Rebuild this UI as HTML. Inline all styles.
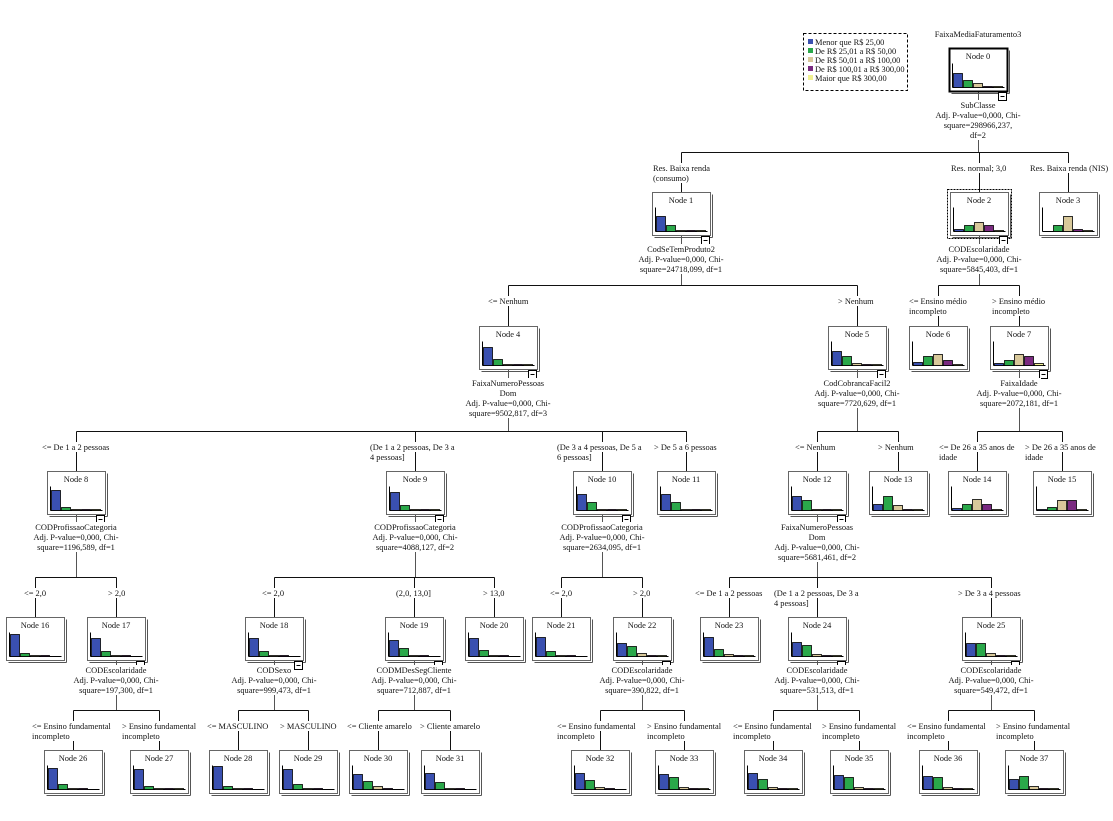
<!DOCTYPE html>
<html><head><meta charset="utf-8"><style>
html,body{margin:0;padding:0;background:#fff;width:1113px;height:821px;overflow:hidden}
svg text{font-family:"Liberation Serif",serif;font-size:8.4px;fill:#111}
</style></head><body>
<svg id="s" width="1113" height="821" viewBox="0 0 1113 821" xmlns="http://www.w3.org/2000/svg">
<text x="978" y="37" text-anchor="middle">FaixaMediaFaturamento3</text>
<rect x="803.5" y="33.5" width="104" height="57" fill="none" stroke="#000" stroke-dasharray="3,2"/>
<rect x="808" y="39" width="5" height="5" fill="#3a50b0"/><text x="815" y="45">Menor que R$ 25,00</text>
<rect x="808" y="48" width="5" height="5" fill="#2aa84a"/><text x="815" y="54">De R$ 25,01 a R$ 50,00</text>
<rect x="808" y="57" width="5" height="5" fill="#d8c89a"/><text x="815" y="63">De R$ 50,01 a R$ 100,00</text>
<rect x="808" y="66" width="5" height="5" fill="#7a2a80"/><text x="815" y="72">De R$ 100,01 a R$ 300,00</text>
<rect x="808" y="75" width="5" height="5" fill="#f0f090"/><text x="815" y="81">Maior que R$ 300,00</text>
<g id="g"></g>
</svg>
<script>
var g=document.getElementById('g');
var C=['#3a50b0','#2aa84a','#d8c89a','#7a2a80','#f0f090'];
var N=[[0,978,48,[14,7,4,1,1],1],[1,681,192,[15,6,1,1,1],1],[2,979,192,[2,6,9,6,1],1],[3,1068,192,[0,6,15,2,1],0],
[4,508,326,[18,6,1,1,1],1],[5,857,326,[14,9,2,1,1],1],[6,938,326,[3,9,11,5,1],0],[7,1019,326,[2,5,11,9,2],1],
[8,76,471,[20,3,1,1,1],1],[9,415,471,[18,5,1,1,1],1],[10,602,471,[16,8,1,1,1],1],[11,686,471,[16,8,1,1,1],0],
[12,817,471,[14,10,1,1,1],1],[13,898,471,[6,14,5,1,1],0],[14,977,471,[2,6,11,6,1],0],[15,1062,471,[1,3,10,10,1],0],
[16,35,617,[22,3,1,1,0],0],[17,116,617,[18,5,1,1,0],1],[18,274,617,[18,5,1,1,0],1],[19,414,617,[16,8,1,1,0],1],[20,494,617,[18,6,1,1,0],0],
[21,561,617,[19,5,1,1,0],0],[22,642,617,[13,10,3,1,1],1],[23,729,617,[19,7,2,1,1],0],[24,817,617,[14,11,2,1,1],1],[25,991,617,[13,13,3,1,1],1],
[26,73,750,[21,5,1,1,0],0],[27,159,750,[20,3,1,1,1],0],[28,238,750,[23,3,1,1,0],0],[29,308,750,[20,5,1,1,0],0],[30,378,750,[15,8,3,1,0],0],[31,450,750,[16,7,1,1,0],0],
[32,600,750,[16,9,2,1,0],0],[33,684,750,[15,12,2,1,1],0],[34,773,750,[16,10,2,1,1],0],[35,859,750,[14,12,2,1,1],0],[36,948,750,[13,12,2,1,1],0],[37,1034,750,[10,13,3,1,1],0]];
var P={};N.forEach(function(n){P[n[0]]=n;});
var S=[
[0,['SubClasse','Adj. P-value=0,000, Chi-','square=298966,237,','df=2'],108,152,[[1,['Res. Baixa renda','(consumo)'],653,171],[2,['Res. normal; 3,0'],951,171],[3,['Res. Baixa renda (NIS)'],1030,171]]],
[1,['CodSeTemProduto2','Adj. P-value=0,000, Chi-','square=24718,099, df=1'],252,285,[[4,['<= Nenhum'],488,304],[5,['> Nenhum'],838,304]]],
[2,['CODEscolaridade','Adj. P-value=0,000, Chi-','square=5845,403, df=1'],252,285,[[6,['<= Ensino médio','incompleto'],909,304],[7,['> Ensino médio','incompleto'],992,304]]],
[4,['FaixaNumeroPessoas','Dom','Adj. P-value=0,000, Chi-','square=9502,817, df=3'],386,431,[[8,['<= De 1 a 2 pessoas'],42,450],[9,['(De 1 a 2 pessoas, De 3 a','4 pessoas]'],370,450],[10,['(De 3 a 4 pessoas, De 5 a','6 pessoas]'],557,450],[11,['> De 5 a 6 pessoas'],654,450]]],
[5,['CodCobrancaFacil2','Adj. P-value=0,000, Chi-','square=7720,629, df=1'],386,431,[[12,['<= Nenhum'],795,450],[13,['> Nenhum'],878,450]]],
[7,['FaixaIdade','Adj. P-value=0,000, Chi-','square=2072,181, df=1'],386,431,[[14,['<= De 26 a 35 anos de','idade'],939,450],[15,['> De 26 a 35 anos de','idade'],1025,450]]],
[8,['CODProfissaoCategoria','Adj. P-value=0,000, Chi-','square=1196,589, df=1'],530,577,[[16,['<= 2,0'],24,596],[17,['> 2,0'],108,596]]],
[9,['CODProfissaoCategoria','Adj. P-value=0,000, Chi-','square=4088,127, df=2'],530,577,[[18,['<= 2,0'],262,596],[19,['(2,0, 13,0]'],396,596],[20,['> 13,0'],483,596]]],
[10,['CODProfissaoCategoria','Adj. P-value=0,000, Chi-','square=2634,095, df=1'],530,577,[[21,['<= 2,0'],550,596],[22,['> 2,0'],633,596]]],
[12,['FaixaNumeroPessoas','Dom','Adj. P-value=0,000, Chi-','square=5681,461, df=2'],530,577,[[23,['<= De 1 a 2 pessoas'],695,596],[24,['(De 1 a 2 pessoas, De 3 a','4 pessoas]'],774,596],[25,['> De 3 a 4 pessoas'],958,596]]],
[17,['CODEscolaridade','Adj. P-value=0,000, Chi-','square=197,300, df=1'],673,710,[[26,['<= Ensino fundamental','incompleto'],32,729],[27,['> Ensino fundamental','incompleto'],122,729]]],
[18,['CODSexo','Adj. P-value=0,000, Chi-','square=999,473, df=1'],673,710,[[28,['<= MASCULINO'],207,729],[29,['> MASCULINO'],280,729]]],
[19,['CODMDesSegCliente','Adj. P-value=0,000, Chi-','square=712,887, df=1'],673,710,[[30,['<= Cliente amarelo'],347,729],[31,['> Cliente amarelo'],420,729]]],
[22,['CODEscolaridade','Adj. P-value=0,000, Chi-','square=390,822, df=1'],673,710,[[32,['<= Ensino fundamental','incompleto'],557,729],[33,['> Ensino fundamental','incompleto'],647,729]]],
[24,['CODEscolaridade','Adj. P-value=0,000, Chi-','square=531,513, df=1'],673,710,[[34,['<= Ensino fundamental','incompleto'],733,729],[35,['> Ensino fundamental','incompleto'],822,729]]],
[25,['CODEscolaridade','Adj. P-value=0,000, Chi-','square=549,472, df=1'],673,710,[[36,['<= Ensino fundamental','incompleto'],907,729],[37,['> Ensino fundamental','incompleto'],996,729]]]];
function esc(t){return t.replace(/&/g,'&amp;').replace(/</g,'&lt;').replace(/>/g,'&gt;');}
var L='',T='';
S.forEach(function(s){
 var p=P[s[0]],cx=p[1]+.5,by=s[3]+.5;
 L+='<line x1="'+cx+'" y1="'+(p[2]+44)+'" x2="'+cx+'" y2="'+by+'" stroke="#555"/>';
 s[1].forEach(function(t,i){var y=s[2]+i*10;T+='<rect x="'+(p[1]-t.length*2.1-1)+'" y="'+(y-8)+'" width="'+(t.length*4.2+2)+'" height="10" fill="#fff"/><text x="'+p[1]+'" y="'+y+'" text-anchor="middle">'+esc(t)+'</text>';});
 var xs=s[4].map(function(c){return P[c[0]][1]+.5;});
 L+='<line x1="'+Math.min.apply(0,xs)+'" y1="'+by+'" x2="'+Math.max.apply(0,xs)+'" y2="'+by+'" stroke="#111"/>';
 s[4].forEach(function(c){var ch=P[c[0]],x=ch[1]+.5;
  L+='<line x1="'+x+'" y1="'+by+'" x2="'+x+'" y2="'+ch[2]+'" stroke="#111"/>';
  c[1].forEach(function(t,i){var y=c[3]+i*10;T+='<rect x="'+(c[2]-1)+'" y="'+(y-8)+'" width="'+(t.length*4.1+2)+'" height="10" fill="#fff"/><text x="'+c[2]+'" y="'+y+'">'+esc(t)+'</text>';});
 });
});
var B='';
N.forEach(function(n){
 var x=n[1]-29+.5,y=n[2]+.5,w=58,h=43;
 if(n[0]==2)B+='<rect x="'+(x-3)+'" y="'+(y-3)+'" width="'+(w+6)+'" height="'+(h+6)+'" fill="none" stroke="#000" stroke-dasharray="2,1"/>';
 B+='<rect x="'+x+'" y="'+y+'" width="'+w+'" height="'+h+'" fill="#fff" stroke="'+(n[0]==0?'#000':'#666')+'" stroke-width="'+(n[0]==0?2:1)+'"/>';
 B+='<line x1="'+(x+2)+'" y1="'+(y+h+2)+'" x2="'+(x+w+2)+'" y2="'+(y+h+2)+'" stroke="#555"/>';
 B+='<line x1="'+(x+w+2)+'" y1="'+(y+2)+'" x2="'+(x+w+2)+'" y2="'+(y+h+2)+'" stroke="#555"/>';
 B+='<text x="'+n[1]+'" y="'+(n[2]+11)+'" text-anchor="middle">Node '+n[0]+'</text>';
 var bx=x+3,base=y+39;
 B+='<line x1="'+bx+'" y1="'+(y+15)+'" x2="'+bx+'" y2="'+base+'" stroke="#000"/><line x1="'+bx+'" y1="'+base+'" x2="'+(x+w-3)+'" y2="'+base+'" stroke="#000"/>';
 n[3].forEach(function(hh,i){if(hh<=0)return;var hb=Math.max(hh,1);B+='<rect x="'+(bx+1+i*10)+'" y="'+(base-hb)+'" width="9" height="'+hb+'" fill="'+C[i]+'" stroke="#000" stroke-width="0.8"/>';});
 if(n[4])B+='<rect x="'+(x+w-9)+'" y="'+(y+h+1)+'" width="8" height="8" fill="#fff" stroke="#000"/><line x1="'+(x+w-7)+'" y1="'+(y+h+5)+'" x2="'+(x+w-3)+'" y2="'+(y+h+5)+'" stroke="#000"/>';
});
g.innerHTML=L+B+T;
</script>
</body></html>
